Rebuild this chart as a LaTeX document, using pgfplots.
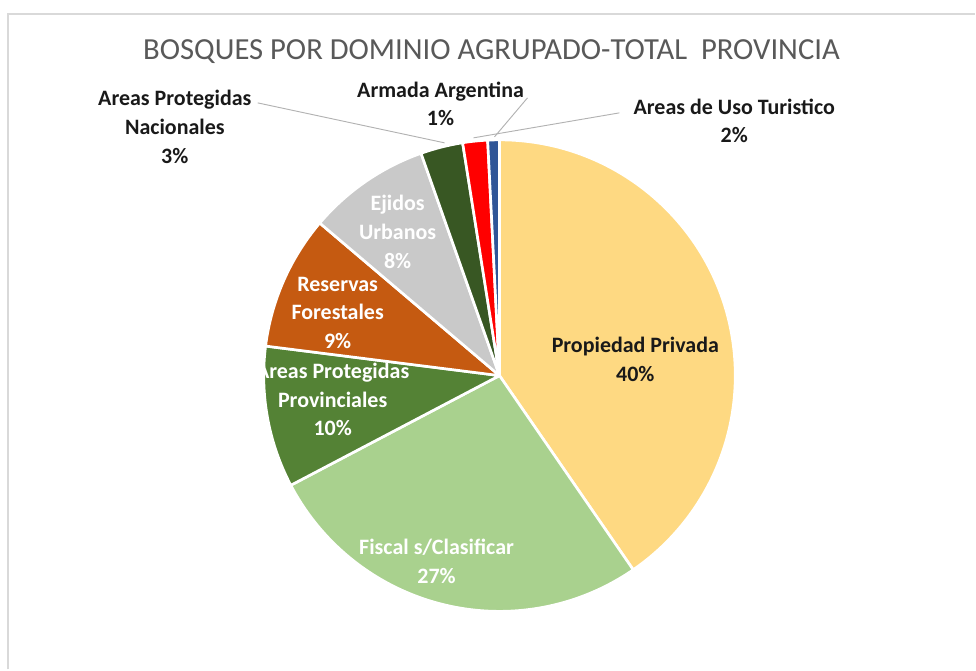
\documentclass[border=0pt]{standalone}
\usepackage{fontspec}
\setmainfont{Carlito}
\usepackage{pgfplots}
\pgfplotsset{compat=1.18}
\usepackage{pgfplotstable}

\definecolor{cProp}{HTML}{FED982}
\definecolor{cFisc}{HTML}{A9D18E}
\definecolor{cProv}{HTML}{548235}
\definecolor{cRes}{HTML}{C55A11}
\definecolor{cEji}{HTML}{C9C9C9}
\definecolor{cNac}{HTML}{385723}
\definecolor{cTur}{HTML}{FF0000}
\definecolor{cArm}{HTML}{2F5597}
\definecolor{cTitle}{HTML}{595959}

\tikzset{lbl/.style={font=\fontsize{16.5}{21.5}\selectfont\bfseries, align=center}}

% slices clockwise from 12 o'clock
\pgfplotstableread[col sep=comma]{
name,value,color
Propiedad Privada,40.4,cProp
Fiscal s/Clasificar,26.9,cFisc
Areas Protegidas Provinciales,9.7,cProv
Reservas Forestales,9.2,cRes
Ejidos Urbanos,8.4,cEji
Areas Protegidas Nacionales,2.9,cNac
Areas de Uso Turistico,1.7,cTur
Armada Argentina,0.8,cArm
}\piedata

\begin{document}
\begin{tikzpicture}
\begin{axis}[
  scale only axis,
  width=732pt, height=502.5pt,
  xmin=0, xmax=976, ymin=0, ymax=670,
  hide axis, clip=false,
]
\path (axis cs:0,0) rectangle (axis cs:976,670);
\draw[gray!30, line width=1.5pt] (axis cs:8,0) -- (axis cs:8,656) -- (axis cs:976,656);

\def\acc{90}
\pgfplotsforeachungrouped \i in {0,...,7}{%
  \pgfplotstablegetelem{\i}{value}\of\piedata
  \pgfmathsetmacro{\aE}{\acc-3.6*\pgfplotsretval}%
  \pgfplotstablegetelem{\i}{color}\of\piedata
  \edef\temp{\noexpand\fill[\pgfplotsretval, draw=white, line width=2pt, line join=round]
    (axis cs:500,294) -- ++(\acc:177pt) arc[start angle=\acc, end angle=\aE, radius=177pt] -- cycle;}%
  \temp
  \let\acc\aE
}

% leader lines
\draw[gray!60, line width=0.7pt] (axis cs:258,567) -- (axis cs:445,527);
\draw[gray!60, line width=0.7pt] (axis cs:528,572) -- (axis cs:495,533);
\draw[gray!60, line width=0.7pt] (axis cs:620,557) -- (axis cs:474,532);

\node[font=\fontsize{23}{28}\selectfont, text=cTitle] at (axis cs:492,618)
  {BOSQUES POR DOMINIO AGRUPADO-TOTAL\ \ PROVINCIA};

\node[lbl, text=black!90] at (axis cs:175,543) {Areas Protegidas\\Nacionales\\3\%};
\node[lbl, text=black!90] at (axis cs:441,566) {Armada Argentina\\1\%};
\node[lbl, text=black!90] at (axis cs:735,549) {Areas de Uso Turistico\\2\%};
\node[lbl, text=black!90] at (axis cs:636,310) {Propiedad Privada\\40\%};
\node[lbl, text=white] at (axis cs:437,108) {Fiscal s/Clasificar\\27\%};
\node[lbl, text=white] at (axis cs:333,270) {Areas Protegidas\\Provinciales\\10\%};
\node[lbl, text=white] at (axis cs:338,357) {Reservas\\Forestales\\9\%};
\node[lbl, text=white] at (axis cs:398,438) {Ejidos\\Urbanos\\8\%};
\end{axis}
\end{tikzpicture}
\end{document}
